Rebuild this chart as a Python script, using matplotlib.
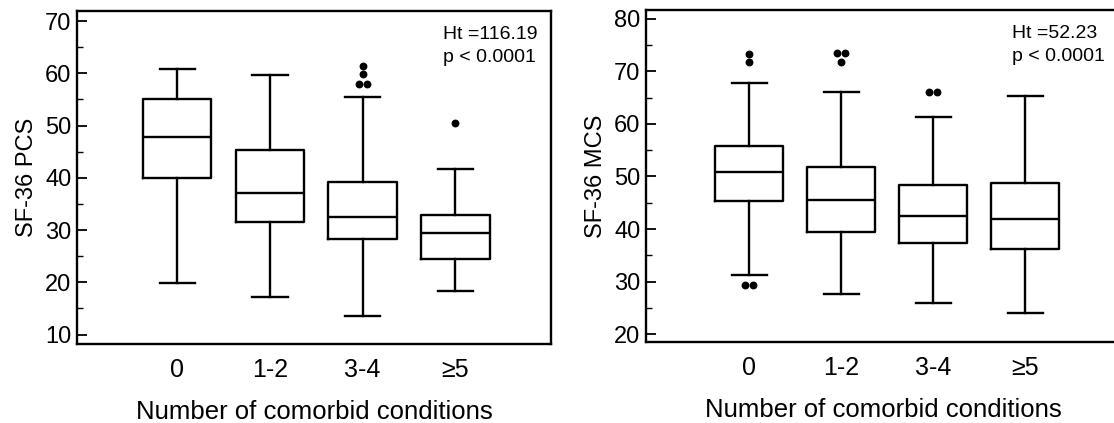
import matplotlib
matplotlib.use("Agg")
import matplotlib.pyplot as plt
from matplotlib.ticker import MultipleLocator

plt.rcParams["font.family"] = ["Liberation Sans", "DejaVu Sans"]

groups = ["0", "1-2", "3-4", "\u22655"]

# SF-36 PCS (left panel)
pcs_whislo = [19.9, 17.2, 13.6, 18.4]
pcs_q1 = [39.9, 31.6, 28.3, 24.4]
pcs_med = [47.9, 37.0, 32.5, 29.5]
pcs_q3 = [55.0, 45.3, 39.2, 32.8]
pcs_whishi = [60.8, 59.7, 55.4, 41.7]
pcs_fliers = [[], [], [58.0, 58.0, 59.9, 61.4], [50.5]]
pcs_stat = "Ht =116.19\np < 0.0001"

# SF-36 MCS (right panel)
mcs_whislo = [31.2, 27.6, 26.0, 24.0]
mcs_q1 = [45.3, 39.4, 37.3, 36.2]
mcs_med = [50.9, 45.6, 42.4, 42.0]
mcs_q3 = [55.8, 51.9, 48.3, 48.7]
mcs_whishi = [67.7, 66.1, 61.3, 65.3]
mcs_fliers = [[73.3, 71.7, 29.4, 29.4], [73.5, 73.5, 71.7], [66.1, 66.1], []]
mcs_stat = "Ht =52.23\np < 0.0001"


def draw_panel(ax, lo, q1, med, q3, hi, fliers, ylabel, stat, ylim, yticks, xlim):
    stats = []
    for i, g in enumerate(groups):
        stats.append(dict(label=g, whislo=lo[i], q1=q1[i], med=med[i],
                          q3=q3[i], whishi=hi[i], fliers=[]))
    pos = list(range(len(groups)))
    lw = 1.7
    ax.bxp(stats, positions=pos, widths=0.74, showfliers=False,
           boxprops=dict(color="black", linewidth=lw),
           medianprops=dict(color="black", linewidth=lw),
           whiskerprops=dict(color="black", linewidth=lw),
           capprops=dict(color="black", linewidth=lw), capwidths=0.38)
    # outliers: equal values are placed side by side
    for i, vals in enumerate(fliers):
        seen = {}
        for v in vals:
            seen.setdefault(v, 0)
            seen[v] += 1
        for v, n in seen.items():
            offs = [(k - (n - 1) / 2) * 0.09 for k in range(n)]
            ax.scatter([pos[i] + o for o in offs], [v] * n, s=32,
                       color="black", zorder=3, linewidths=0)
    ax.set_xlim(*xlim)
    ax.set_ylim(*ylim)
    ax.set_yticks(yticks)
    ax.yaxis.set_minor_locator(MultipleLocator(5))
    ax.tick_params(axis="y", which="major", direction="in", length=7,
                   width=1.3, labelsize=17, pad=4)
    ax.tick_params(axis="y", which="minor", direction="in", length=4,
                   width=1.0)
    ax.tick_params(axis="x", length=0, labelsize=18, pad=10)
    ax.set_xticks(pos)
    ax.set_xticklabels(groups)
    ax.set_ylabel(ylabel, fontsize=17, labelpad=5)
    ax.set_xlabel("Number of comorbid conditions", fontsize=18.5, labelpad=13)
    for s in ax.spines.values():
        s.set_linewidth(1.7)
    ax.text(0.772, 0.955, stat, transform=ax.transAxes, ha="left", va="top",
            fontsize=14, linespacing=1.45)


fig = plt.figure(figsize=(11.14, 4.23), dpi=100)
ax1 = fig.add_axes([0.0691, 0.1868, 0.4255, 0.787])
ax2 = fig.add_axes([0.5799, 0.1915, 0.4255, 0.785])

draw_panel(ax1, pcs_whislo, pcs_q1, pcs_med, pcs_q3, pcs_whishi, pcs_fliers,
           "SF-36 PCS", pcs_stat, (8.2, 71.9), [10, 20, 30, 40, 50, 60, 70],
           (-1.08, 4.03))
draw_panel(ax2, mcs_whislo, mcs_q1, mcs_med, mcs_q3, mcs_whishi, mcs_fliers,
           "SF-36 MCS", mcs_stat, (18.5, 81.7), [20, 30, 40, 50, 60, 70, 80],
           (-1.12, 4.03))

fig.savefig("out.png", dpi=100)
